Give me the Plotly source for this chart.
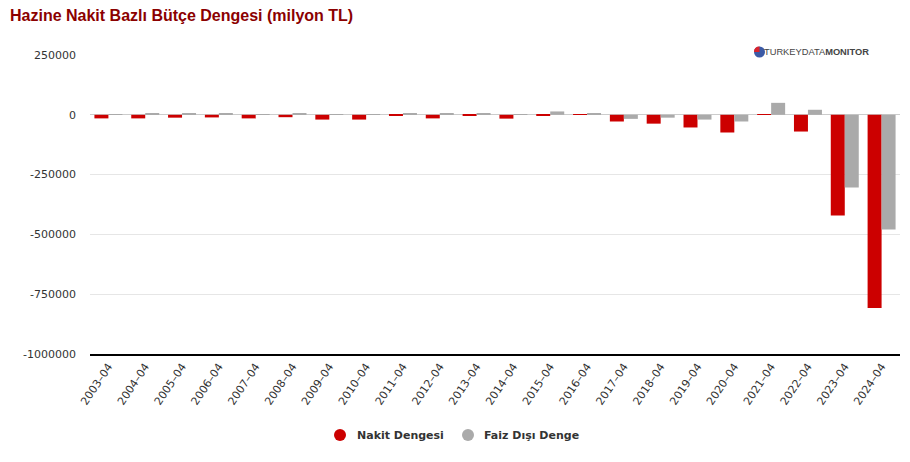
import plotly.graph_objects as go

categories = [f"{y}–04" for y in range(2003, 2025)]
nakit_dengesi = [-15000, -15000, -12000, -11000, -15000, -10000, -20000, -20000, -5000, -15000, -5000,
                 -16000, -5000, -300, -28000, -37000, -53000, -74000, -300, -70000, -421000, -808000]
faiz_disi_denge = [1500, 5000, 5000, 5000, 1000, 5000, 1000, 1500, 5000, 5000, 5000,
                   1000, 14000, 4000, -17000, -12000, -20000, -28000, 50000, 21000, -304000, -479000]
y_ticks = [250000, 0, -250000, -500000, -750000, -1000000]
series_names = ["Nakit Dengesi", "Faiz Dışı Denge"]

RED = "#cc0000"
GRAY = "#aaaaaa"

fig = go.Figure()
fig.add_trace(go.Bar(x=categories, y=nakit_dengesi, name=series_names[0],
                     marker=dict(color=RED, line=dict(width=0)), showlegend=False))
fig.add_trace(go.Bar(x=categories, y=faiz_disi_denge, name=series_names[1],
                     marker=dict(color=GRAY, line=dict(width=0)), showlegend=False))

PH = 299  # plot height px
PW = 810  # plot width px

fig.update_layout(
    width=910, height=462,
    margin=dict(l=90, r=10, t=55, b=108),
    paper_bgcolor="white", plot_bgcolor="white",
    barmode="group", bargap=0.24, bargroupgap=0,
    showlegend=False,
    font=dict(family="DejaVu Sans, Arial, sans-serif", size=11, color="#333333"),
    title=dict(text="<b>Hazine Nakit Bazlı Bütçe Dengesi (milyon TL)</b>",
               font=dict(family="Liberation Sans, Arial, sans-serif", size=16, color="#8b0000"),
               xref="container", yref="container", x=10/910, y=1-15/462,
               xanchor="left", yanchor="middle"),
    xaxis=dict(type="category", tickangle=-56, showgrid=False, showline=True,
               linecolor="black", linewidth=1.5, ticks="",
               tickfont=dict(family="DejaVu Sans, sans-serif", size=11, color="#333333")),
    yaxis=dict(range=[-1000000, 250000], tickvals=y_ticks, ticktext=[str(v) for v in y_ticks],
               showgrid=True, gridcolor="#e6e6e6", gridwidth=1, zeroline=True,
               zerolinecolor="#cccccc", zerolinewidth=1, ticks="", showline=False,
               tickfont=dict(family="DejaVu Sans, sans-serif", size=11, color="#333333"),
               ticklabelstandoff=13),
)

def px_x(x):
    return (x - 90) / PW

def px_y(y):
    return (354 - y) / PH

# logo
fig.add_annotation(text="<span style='font-weight:300'>TURKEY</span>DATA<b>MONITOR</b>",
                   xref="paper", yref="paper", x=px_x(871), y=px_y(52),
                   xanchor="right", yanchor="middle", showarrow=False,
                   font=dict(family="Liberation Sans, Arial, sans-serif",
                             size=9.3, color="#444444"))
fig.add_shape(type="circle", xref="paper", yref="paper",
              x0=px_x(754), x1=px_x(765), y0=px_y(57.5), y1=px_y(46.5),
              fillcolor="#3b5aa6", line=dict(width=0))
fig.add_shape(type="path", xref="paper", yref="paper",
              path=f"M {px_x(759.5)} {px_y(52)} L {px_x(759.5)} {px_y(46.5)} "
                   f"Q {px_x(754)} {px_y(46.5)} {px_x(754)} {px_y(52)} Z",
              fillcolor="#d9232d", line=dict(width=0))

# custom legend with circle markers
legend_items = [(series_names[0], RED, 340, 355), (series_names[1], GRAY, 468, 482)]
for name, col, cx, tx in legend_items:
    fig.add_shape(type="circle", xref="paper", yref="paper",
                  x0=px_x(cx - 6), x1=px_x(cx + 6), y0=px_y(441), y1=px_y(429),
                  fillcolor=col, line=dict(width=0))
    fig.add_annotation(text=f"<b>{name}</b>", xref="paper", yref="paper",
                       x=px_x(tx), y=px_y(435), xanchor="left", yanchor="middle",
                       showarrow=False,
                       font=dict(family="DejaVu Sans, sans-serif", size=11, color="#333333"))

fig.write_html("out.html")
